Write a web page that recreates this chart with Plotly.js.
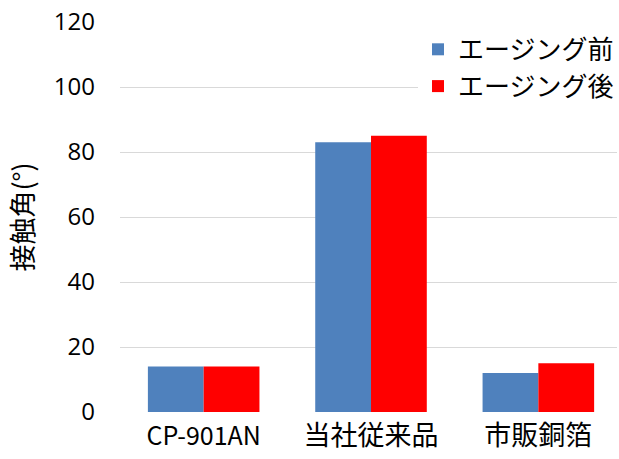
<!DOCTYPE html>
<html><head><meta charset="utf-8">
<script src="https://cdn.plot.ly/plotly-3.0.1.min.js"></script>
<style>html,body{margin:0;padding:0;background:#fff;overflow:hidden}</style>
</head><body>
<div id="chart" style="width:619px;height:459px"></div>
<script>
const categories = ["CP-901AN", "当社従来品", "市販銅箔"];
const seriesNames = ["エージング前", "エージング後"];
const beforeAging = [14, 83, 12];
const afterAging = [14, 85, 15];
const yTicks = [0, 20, 40, 60, 80, 100, 120];
const yTitle = "接触角(°)";

const cjk = "'Noto Sans CJK JP', sans-serif";
const latin = "'Open Sans', 'Noto Sans CJK JP', sans-serif";

const traces = [
  {type: "bar", name: seriesNames[0], x: categories, y: beforeAging,
   marker: {color: "#4F81BD"}},
  {type: "bar", name: seriesNames[1], x: categories, y: afterAging,
   marker: {color: "#FF0000"}}
];

// ASCII labels look smaller than CJK labels in the reference
const tickText = categories.map(c => /^[\x00-\x7F]+$/.test(c)
  ? '<span style="font-size:25px">' + c + '</span>' : c);

const layout = {
  width: 619, height: 459,
  margin: {l: 120, r: 0, t: 22, b: 47},
  paper_bgcolor: "#fff", plot_bgcolor: "#fff",
  barmode: "group", bargap: 1/3, bargroupgap: 0,
  showlegend: true,
  legend: {x: 0.6, xanchor: "left", y: 0.99, yanchor: "top",
    bgcolor: "#fff", font: {family: cjk, size: 26, color: "#000"}},
  xaxis: {range: [-0.5, 2.47], showgrid: false, zeroline: false, showline: false,
    tickvals: categories, ticktext: tickText,
    ticks: "", tickfont: {family: cjk, size: 27, color: "#000"}, ticklabelstandoff: 5},
  yaxis: {range: [0, 120], tickvals: yTicks, ticktext: yTicks.map(String),
    showgrid: true, gridcolor: "#D9D9D9", gridwidth: 1, zeroline: false, showline: false,
    ticks: "", tickfont: {family: latin, size: 24, color: "#000"}, ticklabelstandoff: 24,
    title: {text: yTitle, font: {family: cjk, size: 27, color: "#000"}, standoff: 12}},
};
Plotly.newPlot("chart", traces, layout, {displayModeBar: false, staticPlot: true});
</script>
</body></html>
